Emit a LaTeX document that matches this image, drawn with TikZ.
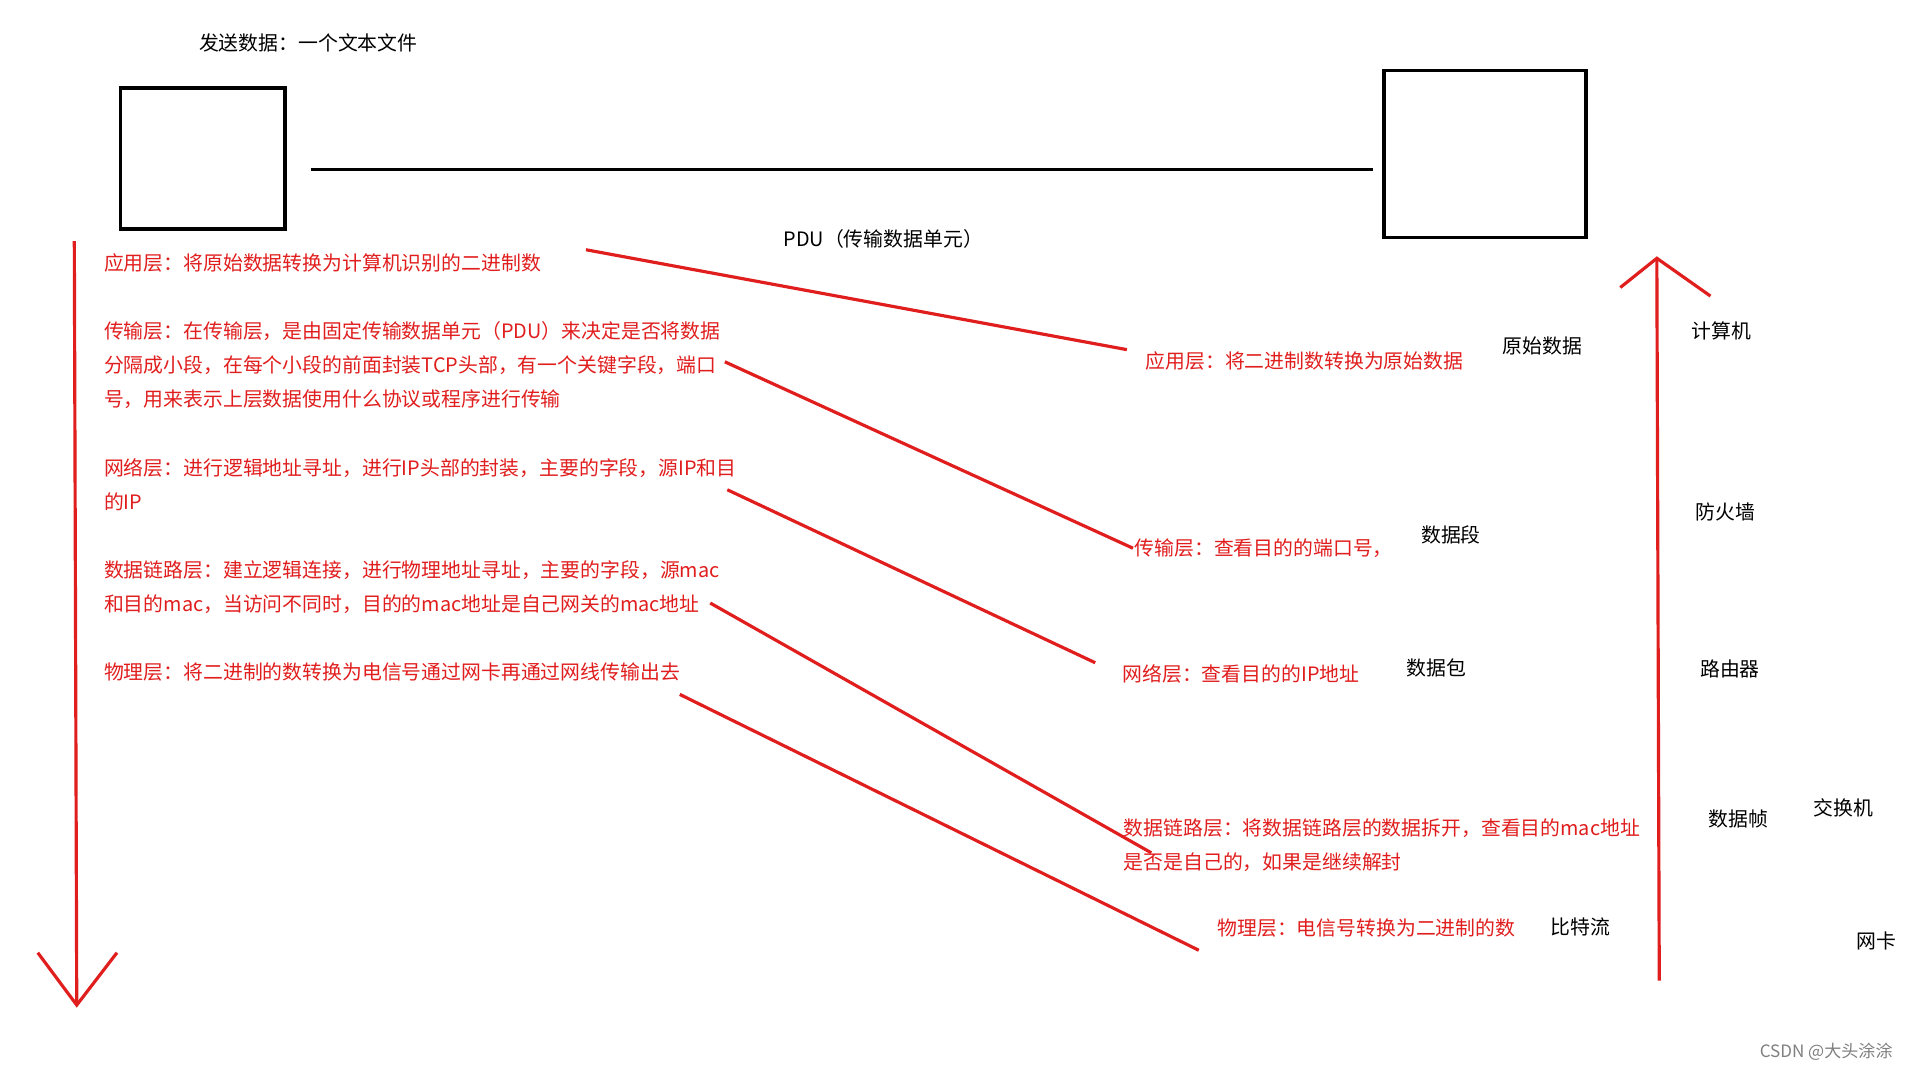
\documentclass[tikz,border=0pt]{standalone}
\usepackage{fontspec}
\setmainfont{Noto Sans CJK SC}
\definecolor{rd}{RGB}{225,30,30}
\begin{document}
\begin{tikzpicture}[x=0.5pt,y=-0.5pt,
  rt/.style={text=rd,font=\fontsize{8.15}{14}\selectfont,anchor=west,inner sep=0pt},
  bt/.style={text=black,font=\fontsize{8.15}{14}\selectfont,inner sep=0pt},
  rl/.style={draw=rd,line width=1.3pt},
  bx/.style={draw=black,line width=1.5pt}]
\useasboundingbox[fill=white] (0,0) rectangle (1567,878);
\node[bt] (title) at (253,35) {发送数据：一个文本文件};
\draw[bx] (99,72) rectangle (234,188);
\draw[bx] (1136,58) rectangle (1302,195);
\coordinate (la) at (255,139); \coordinate (lb) at (1127,139);
\draw[black,line width=1.5pt] (la) -- (lb);
\node[bt] (pdu) at (725,196) {PDU（传输数据单元）};
% down arrow
\coordinate (d1) at (61,198); \coordinate (d2) at (63,825);
\draw[rl] (d1) -- (d2);
\draw[rl] (31,782) -- (d2) -- (96,782);
% up arrow
\coordinate (u1) at (1362,805); \coordinate (u2) at (1360,212);
\draw[rl] (u1) -- (u2);
\draw[rl] (1330,236) -- (u2) -- (1404,243);
% left texts
\node[rt] (l1) at (85,216) {应用层：将原始数据转换为计算机识别的二进制数};
\node[rt] (l2a) at (85,272) {传输层：在传输层，是由固定传输数据单元（PDU）来决定是否将数据};
\node[rt] (l2b) at (85,300) {分隔成小段，在每个小段的前面封装TCP头部，有一个关键字段，端口};
\node[rt] (l2c) at (85,328) {号，用来表示上层数据使用什么协议或程序进行传输};
\node[rt] (l3a) at (85,384) {网络层：进行逻辑地址寻址，进行IP头部的封装，主要的字段，源IP和目};
\node[rt] (l3b) at (85,412) {的IP};
\node[rt] (l4a) at (85,468) {数据链路层：建立逻辑连接，进行物理地址寻址，主要的字段，源mac};
\node[rt] (l4b) at (85,496) {和目的mac，当访问不同时，目的的mac地址是自己网关的mac地址};
\node[rt] (l5) at (85,552) {物理层：将二进制的数转换为电信号通过网卡再通过网线传输出去};
% right texts
\node[rt] (r1) at (940,296) {应用层：将二进制数转换为原始数据};
\node[rt] (r2) at (931,450) {传输层：查看目的的端口号，};
\node[rt] (r3) at (921,553) {网络层：查看目的的IP地址};
\node[rt] (r4a) at (922,680) {数据链路层：将数据链路层的数据拆开，查看目的mac地址};
\node[rt] (r4b) at (922,708) {是否是自己的，如果是继续解封};
\node[rt] (r5) at (999,762) {物理层：电信号转换为二进制的数};
% red connectors
\coordinate (a1) at (481,205); \coordinate (b1) at (925,287);
\coordinate (a2) at (595,297); \coordinate (b2) at (930,450);
\coordinate (a3) at (597,402); \coordinate (b3) at (899,544);
\coordinate (a4) at (583,495); \coordinate (b4) at (945,700);
\coordinate (a5) at (558,570); \coordinate (b5) at (984,780);
\draw[rl] (a1)--(b1); \draw[rl] (a2)--(b2); \draw[rl] (a3)--(b3);
\draw[rl] (a4)--(b4); \draw[rl] (a5)--(b5);
% black labels
\node[bt] (k1) at (1266,284) {原始数据};
\node[bt] (k2) at (1191,439) {数据段};
\node[bt] (k3) at (1179,548) {数据包};
\node[bt] (k4) at (1297,761) {比特流};
\node[bt] (k5) at (1413,272) {计算机};
\node[bt] (k6) at (1416,420) {防火墙};
\node[bt] (k7) at (1420,549) {路由器};
\node[bt] (k8) at (1427,672) {数据帧};
\node[bt] (k9) at (1513,663) {交换机};
\node[bt] (k10) at (1540,772) {网卡};
\node[text=gray,font=\fontsize{7}{9}\selectfont,inner sep=0pt] (wm) at (1499,863) {CSDN @大头涂涂};
\end{tikzpicture}
\end{document}
